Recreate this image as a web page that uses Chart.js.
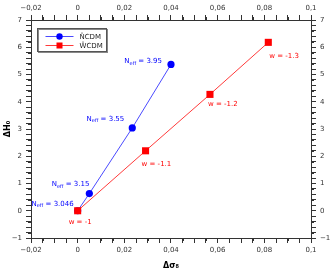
<!DOCTYPE html>
<html><head><meta charset="utf-8">
<script src="https://cdn.jsdelivr.net/npm/chart.js@4/dist/chart.umd.min.js"></script>
<style>html,body{margin:0;padding:0;background:#fff}</style>
</head><body><canvas id="c" width="335" height="275"></canvas>
<script>
// ---- data ----
const seriesNames = ['N\u0304CDM', 'W\u0304CDM'];
const neffLabels = ['3.046', '3.15', '3.55', '3.95'];
const ncdmX = [0, 0.005, 0.0234, 0.040];
const ncdmY = [0, 0.63, 3.04, 5.37];
const wLabels = ['-1', '-1.1', '-1.2', '-1.3'];
const wcdmX = [0, 0.0291, 0.0567, 0.0817];
const wcdmY = [0, 2.20, 4.27, 6.18];
const xTickValues = [-0.02, 0, 0.02, 0.04, 0.06, 0.08, 0.1];
const xTickLabels = ['\u22120,02', '0', '0,02', '0,04', '0,06', '0,08', '0,1'];
const yTickValues = [-1, 0, 1, 2, 3, 4, 5, 6, 7];
const yTickLabels = ['\u22121', '0', '1', '2', '3', '4', '5', '6', '7'];
const xTitle = '\u0394\u03c3\u2088';
const yTitle = '\u0394H\u2080';

// ---- styles ----
const BLUE = '#0000ff', BLUE_LINE = '#4a4aff';
const RED = '#ff0000', RED_LINE = '#ff3a3a';
const FONT = 'DejaVu Sans';
const neffOffsets = [[-4, -7], [0, -9], [-8, -9], [-9, -3]];
const wOffsets = [[-9, 11], [-4, 13], [-2, 10], [1, 14]];

function labelFor(values, labels, v) {
  for (let i = 0; i < values.length; i++) if (Math.abs(v - values[i]) < 1e-7) return labels[i];
  return '';
}
const tickFont = {family: FONT, size: 7};
function gridOpts() {
  return {display: true, drawOnChartArea: false, drawTicks: true, tickLength: 5,
    tickColor: '#333', lineWidth: 1};
}
function border() { return {display: true, color: '#333', width: 1}; }

const xScaleBase = (pos, h, showTitle) => ({
  type: 'linear', position: pos, min: -0.02, max: 0.1,
  afterFit: s => { s.height = h; },
  border: border(), grid: gridOpts(),
  ticks: {stepSize: 0.005, autoSkip: false, maxRotation: 0, color: '#333', font: tickFont, padding: 3,
    callback: v => labelFor(xTickValues, xTickLabels, v)},
  title: showTitle ? {display: true, text: xTitle, color: '#000', font: {family: FONT, size: 8, weight: 'bold'}, padding: {top: 2}} : {display: false}
});
const yScaleBase = (pos, w, showTitle) => ({
  type: 'linear', position: pos, min: -1, max: 7,
  afterFit: s => { s.width = w; },
  border: border(), grid: gridOpts(),
  ticks: {stepSize: 0.2, autoSkip: false, color: '#333', font: tickFont, padding: 4,
    callback: v => labelFor(yTickValues, yTickLabels, v)},
  title: showTitle ? {display: true, text: yTitle, color: '#000', font: {family: FONT, size: 8, weight: 'bold'}, padding: {top: 3, bottom: 0}} : {display: false}
});

const minorTicks = {
  id: 'minorTicks',
  afterDraw(chart) {
    const ctx = chart.ctx;
    ctx.save();
    ctx.strokeStyle = '#333'; ctx.lineWidth = 1;
    for (const id of Object.keys(chart.scales)) {
      const s = chart.scales[id];
      const isX = s.isHorizontal();
      const vals = isX ? xTickValues : yTickValues;
      for (const t of s.ticks) {
        if (labelFor(vals, vals.map(String), t.value) !== '') continue;
        const p = Math.round(s.getPixelForValue(t.value)) + 0.5;
        ctx.beginPath();
        if (s.position === 'bottom') { ctx.moveTo(p, s.top); ctx.lineTo(p, s.top + 3); }
        else if (s.position === 'top') { ctx.moveTo(p, s.bottom); ctx.lineTo(p, s.bottom - 3); }
        else if (s.position === 'left') { ctx.moveTo(s.right, p); ctx.lineTo(s.right - 3, p); }
        else { ctx.moveTo(s.left, p); ctx.lineTo(s.left + 3, p); }
        ctx.stroke();
      }
    }
    ctx.restore();
  }
};

const annotations = {
  id: 'annotations',
  afterDatasetsDraw(chart) {
    const ctx = chart.ctx, xs = chart.scales.x, ys = chart.scales.y;
    ctx.save();
    ctx.textBaseline = 'middle';
    // N_eff labels (right aligned)
    for (let i = 0; i < neffLabels.length; i++) {
      const px = xs.getPixelForValue(ncdmX[i]) + neffOffsets[i][0];
      const py = ys.getPixelForValue(ncdmY[i]) + neffOffsets[i][1];
      const main = '7px ' + FONT, sub = '5px ' + FONT;
      ctx.font = main; const wN = ctx.measureText('N').width;
      const rest = ' = ' + neffLabels[i]; const wR = ctx.measureText(rest).width;
      ctx.font = sub; const wS = ctx.measureText('eff').width;
      let x = px - (wN + wS + wR);
      ctx.fillStyle = BLUE;
      ctx.textAlign = 'left';
      ctx.font = main; ctx.fillText('N', x, py); x += wN;
      ctx.font = sub; ctx.fillText('eff', x, py + 2); x += wS;
      ctx.font = main; ctx.fillText(rest, x, py);
    }
    // w labels (left aligned)
    ctx.fillStyle = RED; ctx.font = '7px ' + FONT; ctx.textAlign = 'left';
    for (let i = 0; i < wLabels.length; i++) {
      const px = xs.getPixelForValue(wcdmX[i]) + wOffsets[i][0];
      const py = ys.getPixelForValue(wcdmY[i]) + wOffsets[i][1];
      ctx.fillText('w = ' + wLabels[i], px, py);
    }
    // legend box
    const ca = chart.chartArea;
    const bx = ca.left + 6.5, by = ca.top + 8.5, bw = 69, bh = 23;
    ctx.fillStyle = '#fff'; ctx.fillRect(bx, by, bw, bh);
    ctx.strokeStyle = '#888'; ctx.lineWidth = 1;
    ctx.strokeRect(bx + 1, by + 1, bw, bh);
    ctx.strokeStyle = '#555';
    ctx.strokeRect(bx, by, bw, bh);
    const rows = [[BLUE_LINE, BLUE, 'circle'], [RED_LINE, RED, 'rect']];
    for (let i = 0; i < 2; i++) {
      const ly = by + 8 + i * 9;
      ctx.strokeStyle = rows[i][0]; ctx.lineWidth = 1;
      ctx.beginPath(); ctx.moveTo(bx + 8, ly); ctx.lineTo(bx + 36, ly); ctx.stroke();
      ctx.fillStyle = rows[i][1];
      if (rows[i][2] === 'circle') { ctx.beginPath(); ctx.arc(bx + 22, ly, 3.2, 0, Math.PI * 2); ctx.fill(); }
      else ctx.fillRect(bx + 19, ly - 3, 6, 6);
      ctx.fillStyle = '#222'; ctx.font = '7px ' + FONT; ctx.textAlign = 'left';
      ctx.fillText(seriesNames[i], bx + 42, ly + 0.5);
    }
    ctx.restore();
  }
};

new Chart(document.getElementById('c'), {
  type: 'scatter',
  data: {
    datasets: [
      {label: seriesNames[0], data: ncdmX.map((x, i) => ({x, y: ncdmY[i]})), showLine: true,
        borderColor: BLUE_LINE, borderWidth: 1, backgroundColor: BLUE, pointBackgroundColor: BLUE,
        pointBorderWidth: 0, pointStyle: 'circle', pointRadius: 3.6, order: 1},
      {label: seriesNames[1], data: wcdmX.map((x, i) => ({x, y: wcdmY[i]})), showLine: true,
        borderColor: RED_LINE, borderWidth: 1, backgroundColor: RED, pointBackgroundColor: RED,
        pointBorderWidth: 0, pointStyle: 'rect', pointRadius: 5, order: 0}
    ]
  },
  options: {
    responsive: false, animation: false,
    layout: {padding: 0},
    plugins: {legend: {display: false}, tooltip: {enabled: false}},
    scales: {
      x: xScaleBase('bottom', 37, true),
      x2: xScaleBase('top', 20, false),
      y: yScaleBase('left', 31, true),
      y2: yScaleBase('right', 24, false)
    }
  },
  plugins: [minorTicks, annotations]
});
</script>
</body></html>
